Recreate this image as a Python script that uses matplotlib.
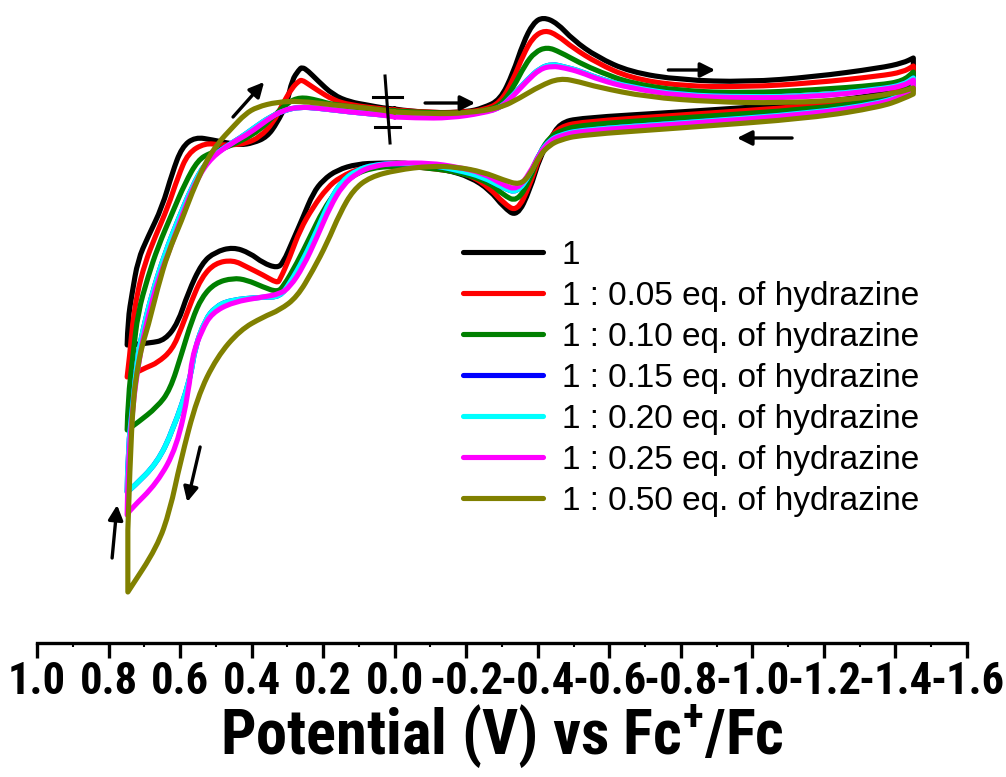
import numpy as np
import matplotlib
matplotlib.use("Agg")
import matplotlib.pyplot as plt
from matplotlib import font_manager
from matplotlib.path import Path
from matplotlib.patches import PathPatch
from matplotlib.lines import Line2D

plt.rcParams['axes.unicode_minus'] = False

# potential (V vs Fc+/Fc) and current (arb. units)
# each loop: 0 V -> -1.45 V -> +0.75 V -> 0 V
E_black = [0.0, -0.015, -0.107, -0.202, -0.247, -0.295, -0.331, -0.359, -0.387, -0.415, -0.454, -0.499,
           -0.566, -0.658, -0.798, -0.985, -1.169, -1.357, -1.421, -1.45,
           -1.45, -1.421, -1.357, -1.169, -0.798, -0.518, -0.462, -0.434, -0.406, -0.378, -0.342, -0.304,
           -0.266, -0.211, -0.146, -0.051, 0.041, 0.105, 0.161, 0.200, 0.228, 0.256, 0.284, 0.312, 0.329,
           0.368, 0.405, 0.452, 0.502, 0.539, 0.578, 0.606, 0.642, 0.684, 0.748,
           0.746, 0.734, 0.718, 0.690, 0.650, 0.622, 0.595, 0.558, 0.508, 0.468, 0.432, 0.396, 0.357,
           0.329, 0.301, 0.287, 0.268, 0.259, 0.242, 0.217, 0.172, 0.125, 0.077, 0.033, 0.0]
I_black = [1.1, 1.0, 0.7, 0.8, 1.2, 2.0, 4.7, 7.7, 9.7, 10.3, 9.7, 8.0,
           6.3, 4.8, 4.0, 3.8, 4.3, 5.2, 5.7, 6.2,
           4.2, 3.5, 2.5, 1.7, 0.8, 0.2, -0.3, -2.0, -3.7, -7.0, -9.7, -8.7,
           -7.0, -5.7, -5.0, -4.3, -4.3, -4.4, -5.0, -6.0, -7.3, -9.7, -12.0, -14.3, -14.8,
           -14.3, -13.3, -12.7, -13.2, -14.3, -17.3, -20.3, -22.0, -22.3, -22.5,
           -20.0, -17.3, -14.0, -11.7, -8.7, -5.3, -2.7, -1.7, -2.0, -2.3, -2.5, -2.3, -1.7,
           -0.3, 1.7, 4.0, 5.0, 5.3, 4.9, 4.0, 2.5, 1.8, 1.5, 1.2, 1.1]

E_red = [0.0, -0.107, -0.202, -0.247, -0.295, -0.331, -0.359, -0.387, -0.420, -0.454, -0.499, -0.566,
         -0.658, -0.798, -0.985, -1.169, -1.357, -1.421, -1.45,
         -1.45, -1.421, -1.357, -1.169, -0.798, -0.518, -0.462, -0.434, -0.406, -0.378, -0.342, -0.304,
         -0.266, -0.211, -0.146, -0.006, 0.089, 0.153, 0.189, 0.228, 0.265, 0.293, 0.321, 0.329, 0.368,
         0.413, 0.452, 0.502, 0.539, 0.567, 0.595, 0.622, 0.664, 0.692, 0.748,
         0.740, 0.734, 0.720, 0.698, 0.670, 0.634, 0.606, 0.578, 0.530, 0.488, 0.452, 0.413, 0.377,
         0.340, 0.312, 0.287, 0.268, 0.259, 0.242, 0.217, 0.172, 0.125, 0.033, 0.0]
I_red = [1.0, 0.7, 0.8, 1.0, 1.7, 4.0, 6.5, 8.3, 9.0, 8.5, 7.2, 5.7,
         4.2, 3.4, 3.3, 3.7, 4.4, 4.8, 5.4,
         3.8, 3.2, 2.2, 1.4, 0.5, -0.2, -0.7, -1.8, -3.5, -6.5, -9.2, -8.3,
         -6.8, -5.5, -5.0, -4.5, -4.7, -5.7, -6.8, -8.7, -11.0, -13.7, -16.0, -16.3, -15.5,
         -14.7, -14.0, -14.3, -15.7, -18.0, -20.7, -23.0, -24.3, -24.7, -25.7,
         -23.3, -20.7, -17.3, -14.3, -11.7, -8.7, -5.7, -3.3, -2.3, -2.5, -2.5, -2.3, -1.7,
         -0.3, 1.7, 3.2, 3.9, 4.0, 3.6, 3.0, 2.0, 1.5, 1.1, 1.0]

E_green = [0.0, -0.107, -0.202, -0.247, -0.295, -0.331, -0.364, -0.392, -0.426, -0.462, -0.518, -0.574,
           -0.658, -0.798, -0.985, -1.169, -1.357, -1.421, -1.45,
           -1.45, -1.421, -1.357, -1.169, -0.798, -0.518, -0.462, -0.434, -0.406, -0.378, -0.342, -0.304,
           -0.266, -0.191, -0.099, -0.006, 0.069, 0.125, 0.161, 0.200, 0.237, 0.273, 0.312, 0.329, 0.368,
           0.413, 0.452, 0.502, 0.539, 0.567, 0.595, 0.628, 0.664, 0.720, 0.748,
           0.746, 0.731, 0.718, 0.690, 0.662, 0.622, 0.586, 0.550, 0.516, 0.468, 0.424, 0.377, 0.340,
           0.301, 0.265, 0.217, 0.172, 0.033, 0.0]
I_green = [0.9, 0.7, 0.7, 0.9, 1.4, 3.2, 5.5, 6.8, 7.3, 6.8, 5.7, 4.8,
           3.7, 2.9, 2.7, 3.0, 3.5, 3.9, 4.8,
           3.4, 2.9, 2.0, 1.1, 0.2, -0.5, -1.1, -1.7, -3.2, -6.0, -8.2, -7.5,
           -6.3, -5.3, -4.8, -4.6, -4.8, -5.7, -7.0, -9.0, -11.7, -14.3, -16.7, -17.2, -16.7,
           -16.0, -15.8, -16.3, -17.7, -20.0, -23.3, -27.0, -28.7, -30.3, -31.0,
           -28.0, -23.3, -19.3, -15.7, -12.7, -9.3, -6.3, -4.0, -3.3, -2.7, -2.0, -1.0, 0.3,
           1.7, 2.3, 2.0, 1.5, 1.0, 0.9]

E_cyan = [0.0, -0.062, -0.155, -0.247, -0.295, -0.331, -0.370, -0.406, -0.440, -0.476, -0.518, -0.574,
          -0.658, -0.798, -0.985, -1.169, -1.357, -1.421, -1.45,
          -1.45, -1.421, -1.357, -1.169, -0.798, -0.518, -0.462, -0.434, -0.406, -0.378, -0.342, -0.304,
          -0.247, -0.174, -0.099, -0.006, 0.061, 0.105, 0.145, 0.181, 0.217, 0.256, 0.293, 0.321, 0.368,
          0.460, 0.502, 0.530, 0.558, 0.572, 0.620, 0.664, 0.731, 0.748,
          0.746, 0.731, 0.720, 0.706, 0.678, 0.642, 0.606, 0.567, 0.530, 0.488, 0.432, 0.390, 0.349,
          0.306, 0.265, 0.217, 0.125, 0.033, 0.0]
I_cyan = [0.4, 0.3, 0.3, 0.8, 1.2, 2.5, 4.0, 5.2, 5.6, 5.3, 4.9, 4.1,
          3.3, 2.5, 2.3, 2.4, 3.1, 3.5, 4.2,
          3.1, 2.5, 1.7, 0.7, -0.3, -1.0, -1.5, -2.0, -3.2, -5.5, -7.3, -6.8,
          -5.7, -5.0, -4.5, -4.3, -4.5, -5.0, -6.0, -8.0, -11.0, -14.0, -16.3, -17.7, -17.7,
          -18.0, -18.7, -20.0, -22.7, -26.0, -31.0, -34.3, -36.7, -37.2,
          -33.0, -28.0, -24.0, -21.3, -17.3, -13.3, -10.0, -6.7, -4.3, -3.0, -1.8, -0.7, 0.3,
          1.0, 1.3, 1.2, 0.8, 0.5, 0.4]

# 0.15 eq. lies under the 0.20 eq. trace in the picture
E_blue = E_cyan
I_blue = I_cyan

E_magenta = [0.0, -0.062, -0.155, -0.247, -0.295, -0.331, -0.370, -0.406, -0.440, -0.476, -0.518, -0.574,
             -0.658, -0.798, -0.985, -1.169, -1.357, -1.421, -1.45,
             -1.45, -1.421, -1.357, -1.169, -0.798, -0.518, -0.462, -0.434, -0.406, -0.378, -0.342, -0.304,
             -0.247, -0.174, -0.099, -0.006, 0.061, 0.105, 0.145, 0.181, 0.217, 0.256, 0.293, 0.321, 0.368,
             0.452, 0.511, 0.539, 0.567, 0.575, 0.609, 0.664, 0.740, 0.748,
             0.746, 0.734, 0.712, 0.692, 0.662, 0.622, 0.586, 0.550, 0.511, 0.455, 0.405, 0.357, 0.312,
             0.265, 0.217, 0.125, 0.033, 0.0]
I_magenta = [0.3, 0.2, 0.2, 0.7, 1.2, 2.4, 3.9, 5.1, 5.4, 5.2, 4.8, 4.0,
             3.2, 2.4, 2.2, 2.3, 3.0, 3.4, 4.0,
             3.0, 2.4, 1.6, 0.6, -0.4, -1.1, -1.6, -2.1, -3.3, -5.3, -7.0, -6.5,
             -5.3, -4.7, -4.3, -4.3, -4.6, -5.3, -6.5, -8.7, -11.7, -14.7, -16.7, -17.4, -17.7,
             -18.2, -19.3, -21.0, -23.7, -27.0, -32.7, -36.3, -39.0, -39.5,
             -35.0, -29.0, -23.3, -20.0, -16.0, -12.3, -8.7, -5.7, -3.7, -2.3, -1.3, 0.0, 1.0,
             1.3, 1.2, 0.8, 0.5, 0.3]

E_olive = [0.0, -0.107, -0.202, -0.295, -0.350, -0.406, -0.462, -0.518, -0.566, -0.706, -0.890, -1.077,
           -1.264, -1.404, -1.45,
           -1.45, -1.421, -1.357, -1.169, -0.798, -0.518, -0.462, -0.434, -0.406, -0.378, -0.350, -0.304,
           -0.247, -0.174, -0.099, -0.006, 0.069, 0.116, 0.153, 0.189, 0.228, 0.273, 0.321, 0.368, 0.432,
           0.497, 0.552, 0.600, 0.628, 0.664, 0.746,
           0.746, 0.740, 0.731, 0.720, 0.706, 0.690, 0.662, 0.634, 0.595, 0.567, 0.530, 0.494, 0.455,
           0.418, 0.385, 0.329, 0.265, 0.172, 0.077, 0.0]
I_olive = [0.8, 0.6, 0.7, 1.2, 2.2, 3.4, 4.2, 3.8, 3.3, 2.3, 1.8, 1.7,
           2.0, 2.7, 3.2,
           2.6, 2.1, 1.3, 0.2, -0.8, -1.5, -2.0, -2.5, -3.5, -5.5, -6.5, -6.0,
           -5.2, -4.7, -4.6, -5.0, -5.7, -7.0, -9.3, -12.3, -15.0, -17.7, -19.0, -19.7, -21.0,
           -23.7, -27.7, -34.3, -39.0, -42.7, -47.2,
           -41.0, -34.3, -28.0, -25.0, -22.5, -20.7, -16.7, -13.3, -10.0, -7.3, -4.3, -2.3, -0.8,
           0.6, 1.3, 1.8, 1.9, 1.5, 1.2, 0.8]

labels = ['1', '1 : 0.05 eq. of hydrazine', '1 : 0.10 eq. of hydrazine', '1 : 0.15 eq. of hydrazine',
          '1 : 0.20 eq. of hydrazine', '1 : 0.25 eq. of hydrazine', '1 : 0.50 eq. of hydrazine']
colors = ['black', 'red', 'green', 'blue', 'cyan', 'magenta', '#808000']
series = [(E_black, I_black), (E_red, I_red), (E_green, I_green), (E_blue, I_blue),
          (E_cyan, I_cyan), (E_magenta, I_magenta), (E_olive, I_olive)]

tick_values = [1.0, 0.8, 0.6, 0.4, 0.2, 0.0, -0.2, -0.4, -0.6, -0.8, -1.0, -1.2, -1.4, -1.6]

# sweep direction arrows (tail E, tail I, head E, head I)
arrows = [(0.452, 0.3, 0.365, 3.8), (-0.085, 1.7, -0.225, 1.7), (-0.765, 5.0, -0.896, 5.0),
          (-1.111, -1.8, -0.957, -1.8), (0.544, -32.7, 0.580, -38.2), (0.790, -43.8, 0.776, -38.5)]

# condensed bold face for the axis, if there is one
names = {f.name for f in font_manager.fontManager.ttflist}
if 'Liberation Sans Narrow' in names:
    axis_font, tick_fs, label_fs = 'Liberation Sans Narrow', 31, 47
elif 'Roboto Condensed' in names:
    axis_font, tick_fs, label_fs = 'Roboto Condensed', 32, 45
else:
    axis_font, tick_fs, label_fs = 'Liberation Sans', 27, 39
plt.rcParams['mathtext.fontset'] = 'custom'
plt.rcParams['mathtext.rm'] = axis_font + ':bold'
plt.rcParams['mathtext.default'] = 'rm'


def cv_path(E, I):
    # quadratic curves through the traced points, sharp at the switching potentials
    pts = np.column_stack([E, I])
    E = np.asarray(E)
    corners = set(np.where(E == E.min())[0]) | set(np.where(E == E.max())[0])
    verts, codes = [pts[0]], [Path.MOVETO]
    for i in range(1, len(pts) - 1):
        if i in corners:
            verts.append(pts[i])
            codes.append(Path.LINETO)
        else:
            verts += [pts[i], (pts[i] + pts[i + 1]) / 2]
            codes += [Path.CURVE3, Path.CURVE3]
    verts.append(pts[-1])
    codes.append(Path.LINETO)
    return Path(verts, codes)


fig = plt.figure(figsize=(10.06, 7.77), dpi=100)
ax = fig.add_axes([37 / 1006, 134 / 777, 930 / 1006, 643 / 777])

handles = []
for (E, I), c, lab in zip(series, colors, labels):
    ax.add_patch(PathPatch(cv_path(E, I), fill=False, edgecolor=c, lw=3.7,
                           joinstyle='round', capstyle='round', clip_on=False))
    handles.append(Line2D([], [], color=c, lw=3.7, solid_capstyle='round', label=lab))

for x0, y0, x1, y1 in arrows:
    ax.annotate('', xy=(x1, y1), xytext=(x0, y0),
                arrowprops=dict(arrowstyle='-|>', color='black', lw=2.4, mutation_scale=22,
                                shrinkA=0, shrinkB=0))

# break mark at the starting potential
ax.plot([0.027, 0.013], [4.4, -2.3], color='black', lw=2.2)
ax.plot([0.061, -0.020], [2.3, 2.3], color='black', lw=2.2)
ax.plot([0.055, -0.015], [-0.7, -0.7], color='black', lw=2.2)

ax.set_xlim(1.0, -1.6)
ax.set_ylim(-52.3, 12.0)
for s in ['left', 'right', 'top']:
    ax.spines[s].set_visible(False)
ax.spines['bottom'].set_linewidth(2.4)
ax.set_yticks([])
ax.set_xticks(tick_values)
ax.set_xticks([0.9, 0.7, 0.5, 0.3, 0.1, -0.1, -0.3, -0.5, -0.7, -0.9, -1.1, -1.3, -1.5], minor=True)
ax.set_xticklabels(['%.1f' % v for v in tick_values])
ax.tick_params(axis='x', which='major', length=11, width=2.4, pad=2, direction='out')
ax.tick_params(axis='x', which='minor', length=3, width=1.5, direction='out')
for t in ax.get_xticklabels():
    t.set_fontfamily(axis_font)
    t.set_fontweight('bold')
    t.set_fontsize(tick_fs)

ax.set_xlabel('Potential (V) vs Fc$^{+}$/Fc', fontsize=label_fs, fontweight='bold',
              fontfamily=axis_font, labelpad=0)

ax.legend(handles=handles, loc='upper left', bbox_to_anchor=(463 / 1006, 1 - 240 / 777),
          bbox_transform=fig.transFigure, frameon=False, borderpad=0, borderaxespad=0,
          handlelength=2.4, handletextpad=0.57, labelspacing=0.3,
          prop={'family': 'Liberation Sans', 'size': 24})

fig.savefig('out.png', dpi=100)
